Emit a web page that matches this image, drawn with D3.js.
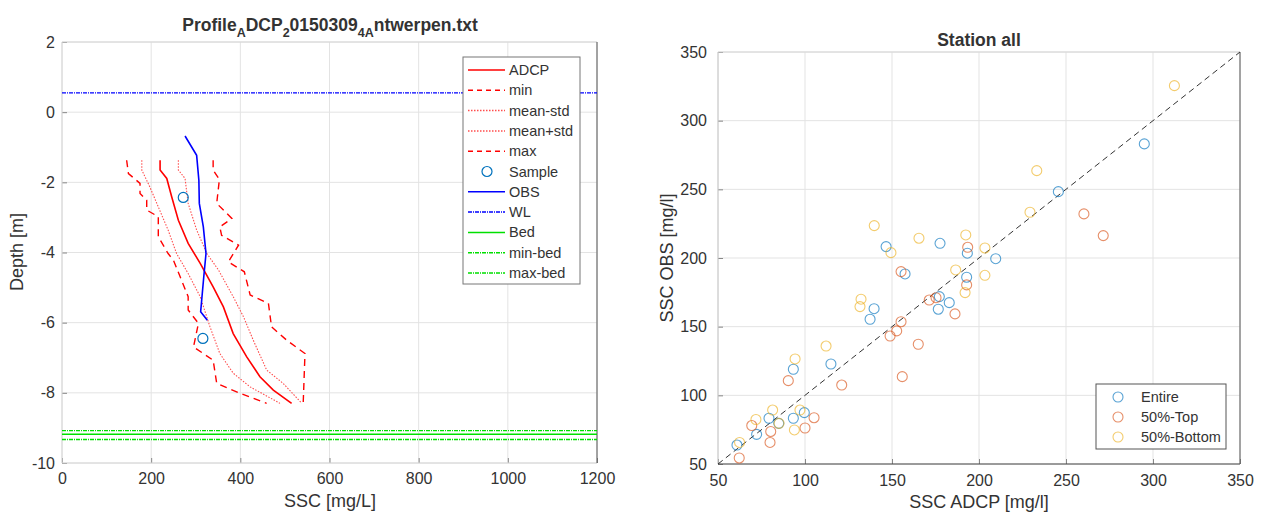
<!DOCTYPE html>
<html>
<head>
<meta charset="utf-8">
<script src="https://cdn.jsdelivr.net/npm/d3@7"></script>
<style>
  body { margin: 0; background: #fff; }
  text { font-family: "Liberation Sans", Arial, Helvetica, sans-serif; fill: #333; }
</style>
</head>
<body>
<svg id="chart" width="1263" height="515"></svg>
<script>
// ---- profile panel data (depth in m, SSC in mg/L) ----
const adcpDepth = [-1.37, -1.65, -1.89, -2.41, -3.08, -3.74, -4.31, -4.98, -5.55, -6.31, -6.97, -7.54, -7.92, -8.30];
const adcpSsc = [220, 220, 235, 246, 261, 283, 310, 339, 362, 384, 414, 444, 474, 515];

const minDepth = [-1.37, -1.75, -2.03, -2.32, -2.51, -2.79, -2.98, -3.55, -4.03, -4.22, -5.26, -5.64, -6.02, -6.69, -7.07, -7.73, -8.01, -8.30];
const minSsc = [145, 149, 175, 175, 190, 190, 216, 216, 238, 250, 283, 283, 306, 295, 339, 347, 399, 459];

const lowDepth = [-1.37, -1.65, -2.13, -2.70, -3.36, -4.03, -4.60, -5.26, -6.12, -6.88, -7.44, -7.83, -8.30];
const lowSsc = [179, 179, 197, 216, 238, 257, 283, 310, 332, 354, 384, 422, 489];

const highDepth = [-1.37, -1.65, -1.89, -2.60, -3.36, -4.03, -4.50, -5.26, -5.83, -6.50, -7.35, -7.73, -8.30];
const highSsc = [261, 261, 276, 283, 302, 325, 351, 384, 407, 429, 459, 496, 538];

const maxDepth = [-1.37, -1.65, -1.92, -2.60, -3.03, -3.27, -3.51, -3.79, -4.27, -4.55, -5.21, -5.45, -6.12, -6.50, -6.88, -8.30];
const maxSsc = [339, 339, 353, 347, 381, 354, 358, 396, 373, 409, 422, 463, 470, 504, 545, 541];

const obsDepth = [-0.68, -1.23, -1.94, -2.60, -3.27, -4.03, -4.69, -5.69, -5.93];
const obsSsc = [276, 302, 307, 308, 317, 323, 318, 311, 326];

const sampleDepth = [-2.43, -6.45];
const sampleSsc = [272, 316];

const waterLevel = 0.55;
const bedLevels = [-9.18, -9.08, -9.33]; // bed, min-bed, max-bed

const sscTicks = [0, 200, 400, 600, 800, 1000, 1200];
const depthTicks = [2, 0, -2, -4, -6, -8, -10];

// ---- scatter panel data (SSC ADCP vs SSC OBS, mg/l) ----
const entireAdcp = [114.9, 93.3, 99.6, 79.3, 84.9, 93.3, 72.2, 60.9, 177.6, 193.3, 209.6, 146.6, 157.5, 192.9, 177.2, 182.9, 176.6, 139.7, 137.4, 245.6, 295.0];
const entireObs = [122.8, 119.0, 87.4, 83.3, 79.6, 83.3, 71.6, 63.8, 210.7, 203.5, 199.5, 208.3, 188.4, 186.0, 171.9, 167.5, 162.7, 163.1, 155.4, 248.3, 283.1];

const topAdcp = [90.4, 121.1, 105.2, 69.4, 100.0, 80.3, 79.9, 62.2, 193.5, 155.2, 192.9, 171.4, 175.3, 186.2, 155.2, 152.7, 148.9, 165.1, 155.9, 260.3, 271.4];
const topObs = [110.7, 107.5, 83.7, 78.0, 76.2, 73.7, 65.7, 54.4, 207.8, 190.1, 180.4, 169.4, 171.1, 159.3, 153.6, 146.9, 143.2, 137.2, 113.6, 232.1, 216.3];

const bottomAdcp = [94.3, 81.4, 97.1, 71.8, 85.1, 93.9, 62.4, 233.2, 229.3, 139.8, 165.5, 192.4, 203.4, 149.4, 186.6, 203.4, 192.0, 132.2, 131.6, 112.1, 312.3];
const bottomObs = [126.5, 89.3, 89.3, 82.4, 79.6, 74.8, 65.7, 263.6, 233.3, 223.6, 214.4, 216.8, 207.3, 203.9, 191.3, 187.4, 174.8, 170.0, 164.6, 135.9, 325.5];

const scatterTicks = [50, 100, 150, 200, 250, 300, 350];

const svg = d3.select('#chart');
const plain = d => String(d); // hyphen minus, no thousands separator

function frame(g, x, y, xTicks, yTicks, opts) {
  const [x0, x1] = x.range();
  const [y0, y1] = y.range(); // y0 bottom, y1 top

  // grid
  g.append('g').selectAll('line').data(xTicks).enter().append('line')
    .attr('x1', d => x(d)).attr('x2', d => x(d))
    .attr('y1', y0).attr('y2', y1)
    .attr('stroke', '#e3e3e3');
  g.append('g').selectAll('line').data(yTicks).enter().append('line')
    .attr('x1', x0).attr('x2', x1)
    .attr('y1', d => y(d)).attr('y2', d => y(d))
    .attr('stroke', '#e3e3e3');

  const xAxis = g.append('g')
    .attr('transform', `translate(0,${y0})`)
    .call(d3.axisBottom(x).tickValues(xTicks).tickFormat(plain)
      .tickSizeInner(-5).tickSizeOuter(0).tickPadding(opts.xPad));
  const yAxis = g.append('g')
    .attr('transform', `translate(${x0},0)`)
    .call(d3.axisLeft(y).tickValues(yTicks).tickFormat(plain)
      .tickSizeInner(-5).tickSizeOuter(0).tickPadding(opts.yPad));
  [xAxis, yAxis].forEach(a => {
    a.select('.domain').remove();
    a.selectAll('line').attr('stroke', '#888');
    a.selectAll('text').style('font-size', '16px').attr('fill', '#3a3a3a');
  });

  // box
  g.append('line').attr('x1', x0).attr('x2', x0).attr('y1', y0).attr('y2', y1).attr('stroke', opts.leftColor);
  g.append('line').attr('x1', x0).attr('x2', x1).attr('y1', y1).attr('y2', y1).attr('stroke', '#d6d6d6');
  g.append('line').attr('x1', x0).attr('x2', x1).attr('y1', y0).attr('y2', y0).attr('stroke', opts.bottomColor);
  g.append('line').attr('x1', x1).attr('x2', x1).attr('y1', y0).attr('y2', y1).attr('stroke', '#555');
}

// ================= left: profile =================
const xP = d3.scaleLinear().domain([0, 1200]).range([62, 597]);
const yP = d3.scaleLinear().domain([-10, 2]).range([463, 42]);
const left = svg.append('g');

frame(left, xP, yP, sscTicks, depthTicks, { xPad: 10, yPad: 7, leftColor: '#d6d6d6', bottomColor: '#d6d6d6' });

const profileLine = d3.line().x(d => xP(d[0])).y(d => yP(d[1]));
const zip = (a, b) => a.map((v, i) => [v, b[i]]);

const profiles = [
  { ssc: lowSsc, depth: lowDepth, color: '#ff4d4d', width: 1.1, dash: '1.5,1.5' },
  { ssc: highSsc, depth: highDepth, color: '#ff4d4d', width: 1.1, dash: '1.5,1.5' },
  { ssc: minSsc, depth: minDepth, color: '#ff0000', width: 1.4, dash: '7,5' },
  { ssc: maxSsc, depth: maxDepth, color: '#ff0000', width: 1.4, dash: '7,5' },
  { ssc: adcpSsc, depth: adcpDepth, color: '#ff0000', width: 1.6, dash: null },
  { ssc: obsSsc, depth: obsDepth, color: '#0000ff', width: 1.6, dash: null }
];

left.selectAll('path.profile')
  .data(profiles)
  .enter()
  .append('path')
  .attr('class', 'profile')
  .attr('d', p => profileLine(zip(p.ssc, p.depth)))
  .attr('fill', 'none')
  .attr('stroke', p => p.color)
  .attr('stroke-width', p => p.width)
  .attr('stroke-dasharray', p => p.dash);

// water level and bed
left.append('line')
  .attr('x1', xP(0)).attr('x2', xP(1200))
  .attr('y1', yP(waterLevel)).attr('y2', yP(waterLevel))
  .attr('stroke', '#0000ff').attr('stroke-width', 1.3).attr('stroke-dasharray', '4,1,1,1');

left.selectAll('line.bed')
  .data(bedLevels)
  .enter()
  .append('line')
  .attr('class', 'bed')
  .attr('x1', xP(0)).attr('x2', xP(1200))
  .attr('y1', d => yP(d)).attr('y2', d => yP(d))
  .attr('stroke', '#00e000')
  .attr('stroke-width', (d, i) => i === 0 ? 1.6 : 1.3)
  .attr('stroke-dasharray', (d, i) => i === 0 ? null : '4,1,1,1');

left.selectAll('circle.sample')
  .data(zip(sampleSsc, sampleDepth))
  .enter()
  .append('circle')
  .attr('class', 'sample')
  .attr('cx', d => xP(d[0]))
  .attr('cy', d => yP(d[1]))
  .attr('r', 5)
  .attr('fill', 'none')
  .attr('stroke', '#0072BD')
  .attr('stroke-width', 1.2);

// title with TeX-like subscripts
const title = left.append('text')
  .attr('x', 330).attr('y', 31)
  .attr('text-anchor', 'middle')
  .style('font-size', '17.5px')
  .style('font-weight', 'bold');
[['Profile', 0], ['A', 1], ['DCP', 0], ['2', 1], ['0150309', 0], ['4A', 1], ['ntwerpen.txt', 0]]
  .forEach(([s, sub], i, arr) => {
    const prev = i > 0 ? arr[i - 1][1] : 0;
    title.append('tspan')
      .attr('dy', sub === prev ? 0 : (sub ? 6 : -6))
      .style('font-size', sub ? '12.5px' : '17.5px')
      .text(s);
  });

left.append('text')
  .attr('x', 330).attr('y', 507)
  .attr('text-anchor', 'middle')
  .style('font-size', '18px')
  .text('SSC [mg/L]');

left.append('text')
  .attr('transform', 'translate(23,252) rotate(-90)')
  .attr('text-anchor', 'middle')
  .style('font-size', '18px')
  .text('Depth [m]');

// profile legend
const legendItems = [
  { label: 'ADCP', type: 'line', color: '#ff0000', dash: null },
  { label: 'min', type: 'line', color: '#ff0000', dash: '5,4' },
  { label: 'mean-std', type: 'line', color: '#ff4d4d', dash: '1.5,1.5' },
  { label: 'mean+std', type: 'line', color: '#ff4d4d', dash: '1.5,1.5' },
  { label: 'max', type: 'line', color: '#ff0000', dash: '5,4' },
  { label: 'Sample', type: 'circle', color: '#0072BD', dash: null },
  { label: 'OBS', type: 'line', color: '#0000ff', dash: null },
  { label: 'WL', type: 'line', color: '#0000ff', dash: '4,1,1,1' },
  { label: 'Bed', type: 'line', color: '#00e000', dash: null },
  { label: 'min-bed', type: 'line', color: '#00e000', dash: '4,1,1,1' },
  { label: 'max-bed', type: 'line', color: '#00e000', dash: '4,1,1,1' }
];

const legL = left.append('g').attr('transform', 'translate(463,57)');
legL.append('rect')
  .attr('width', 117).attr('height', 227)
  .attr('fill', '#fff').attr('stroke', '#777');

const rowL = legL.selectAll('g.row')
  .data(legendItems)
  .enter()
  .append('g')
  .attr('class', 'row')
  .attr('transform', (d, i) => `translate(0,${13 + i * 20.3})`);

rowL.filter(d => d.type === 'line').append('line')
  .attr('x1', 5).attr('x2', 42)
  .attr('stroke', d => d.color)
  .attr('stroke-width', 1.5)
  .attr('stroke-dasharray', d => d.dash);
rowL.filter(d => d.type === 'circle').append('circle')
  .attr('cx', 24).attr('r', 5)
  .attr('fill', 'none').attr('stroke', d => d.color).attr('stroke-width', 1.2);
rowL.append('text')
  .attr('x', 46).attr('dy', '0.35em')
  .style('font-size', '14.5px')
  .text(d => d.label);

// ================= right: scatter =================
const xS = d3.scaleLinear().domain([50, 350]).range([718, 1240]);
const yS = d3.scaleLinear().domain([50, 350]).range([464, 52]);
const right = svg.append('g');

frame(right, xS, yS, scatterTicks, scatterTicks, { xPad: 11, yPad: 11, leftColor: '#c8c8c8', bottomColor: '#444' });

right.append('line')
  .attr('x1', xS(50)).attr('y1', yS(50))
  .attr('x2', xS(350)).attr('y2', yS(350))
  .attr('stroke', '#333')
  .attr('stroke-width', 1)
  .attr('stroke-dasharray', '6,4');

const groups = [
  { name: 'Entire', x: entireAdcp, y: entireObs, color: '#0072BD' },
  { name: '50%-Top', x: topAdcp, y: topObs, color: '#D95319' },
  { name: '50%-Bottom', x: bottomAdcp, y: bottomObs, color: '#EDB120' }
];

groups.forEach(grp => {
  right.append('g').selectAll('circle')
    .data(zip(grp.x, grp.y))
    .enter()
    .append('circle')
    .attr('cx', d => xS(d[0]))
    .attr('cy', d => yS(d[1]))
    .attr('r', 5)
    .attr('fill', 'none')
    .attr('stroke', grp.color)
    .attr('stroke-opacity', 0.65)
    .attr('stroke-width', 1.1);
});

right.append('text')
  .attr('x', 979).attr('y', 46)
  .attr('text-anchor', 'middle')
  .style('font-size', '17.5px')
  .style('font-weight', 'bold')
  .text('Station all');

right.append('text')
  .attr('x', 979).attr('y', 508)
  .attr('text-anchor', 'middle')
  .style('font-size', '18px')
  .text('SSC ADCP [mg/l]');

right.append('text')
  .attr('transform', 'translate(673,258) rotate(-90)')
  .attr('text-anchor', 'middle')
  .style('font-size', '18px')
  .text('SSC OBS [mg/l]');

const legR = right.append('g').attr('transform', 'translate(1096,384)');
legR.append('rect')
  .attr('width', 130).attr('height', 65)
  .attr('fill', '#fff').attr('stroke', '#555');

const rowR = legR.selectAll('g.row')
  .data(groups)
  .enter()
  .append('g')
  .attr('class', 'row')
  .attr('transform', (d, i) => `translate(0,${13 + i * 20})`);
rowR.append('circle')
  .attr('cx', 22).attr('r', 5)
  .attr('fill', 'none')
  .attr('stroke', d => d.color)
  .attr('stroke-opacity', 0.65)
  .attr('stroke-width', 1.1);
rowR.append('text')
  .attr('x', 45).attr('dy', '0.35em')
  .style('font-size', '14.5px')
  .text(d => d.name);
</script>
</body>
</html>
